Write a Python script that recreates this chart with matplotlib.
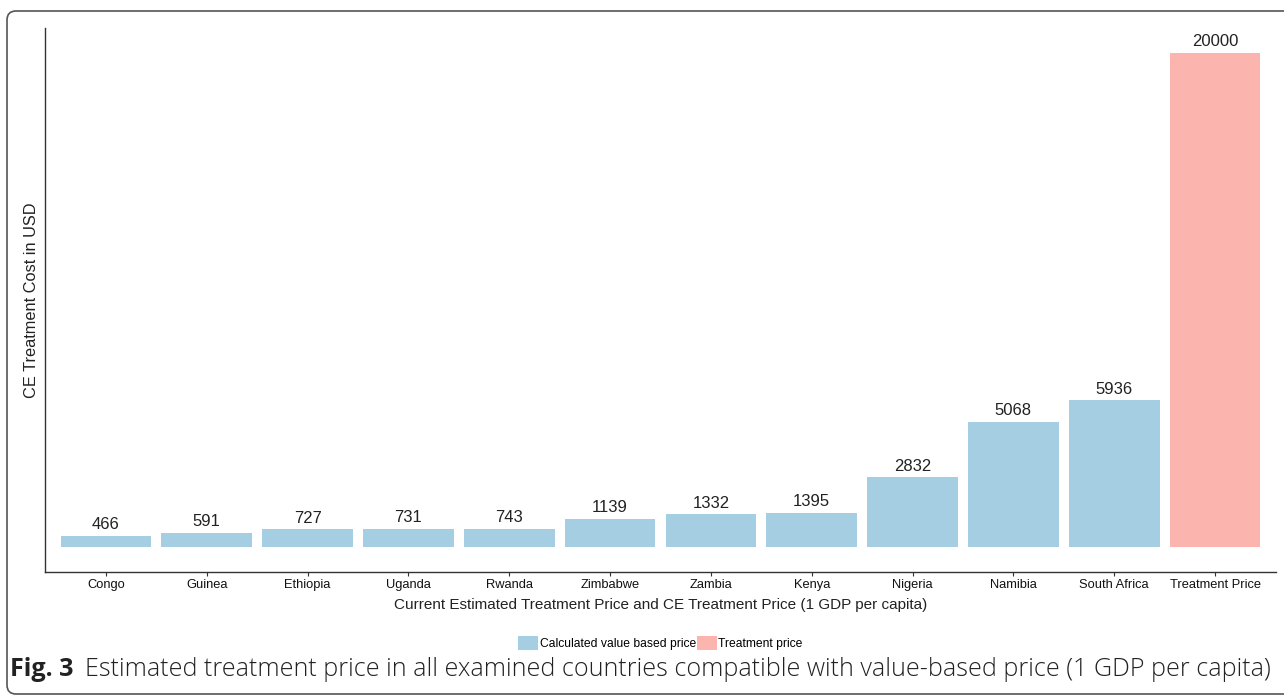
import matplotlib.pyplot as plt
from matplotlib.patches import FancyBboxPatch

countries = ['Congo', 'Guinea', 'Ethiopia', 'Uganda', 'Rwanda', 'Zimbabwe',
             'Zambia', 'Kenya', 'Nigeria', 'Namibia', 'South Africa', 'Treatment Price']
prices = [466, 591, 727, 731, 743, 1139, 1332, 1395, 2832, 5068, 5936, 20000]
groups = ['Calculated value based price'] * 11 + ['Treatment price']
group_colors = {'Calculated value based price': '#a6cee3', 'Treatment price': '#fbb4ae'}

plt.rcParams['font.family'] = ['Liberation Sans', 'DejaVu Sans']

W, H = 1284, 695
fig = plt.figure(figsize=(W / 100, H / 100), dpi=100)
ax = fig.add_axes([45.5 / W, 123 / H, 1230 / W, 544 / H])

x = range(len(countries))
bars = ax.bar(x, prices, width=0.9, color=[group_colors[g] for g in groups])
for xi, v in zip(x, prices):
    ax.text(xi, v + 150, str(v), ha='center', va='bottom', fontsize=12, color='#222222')

ymax = max(prices)
ax.set_xlim(-0.6, len(countries) - 0.4)
ax.set_ylim(-0.05 * ymax, 1.05 * ymax)
ax.set_xticks(list(x))
ax.set_xticklabels(countries, fontsize=9.3, color='#111111')
ax.set_yticks([])
ax.tick_params(axis='x', length=3, width=0.8, color='#333333', pad=2)
for side in ['top', 'right']:
    ax.spines[side].set_visible(False)
for side in ['left', 'bottom']:
    ax.spines[side].set_color('#333333')
    ax.spines[side].set_linewidth(1.0)

ax.set_xlabel('Current Estimated Treatment Price and CE Treatment Price (1 GDP per capita)',
              fontsize=11, color='#222222', labelpad=5)
ax.set_ylabel('CE Treatment Cost in USD', fontsize=11.8, color='#222222', labelpad=5)

# legend built from one bar of each group
handles = [bars[0], bars[-1]]
ax.legend(handles, ['Calculated value based price', 'Treatment price'],
          loc='center', bbox_to_anchor=(0.5, -0.1305), ncol=2, frameon=False,
          fontsize=8.7, handlelength=1.65, handleheight=1.4, handletextpad=0.1,
          columnspacing=0.1, borderpad=0)

# caption: bold figure number followed by the description, fitted to the frame width
cap_y = 1 - 670 / H
cap_size = 11.5
num = fig.text(10 / W, cap_y, 'Fig. 3', fontsize=cap_size, fontweight='bold',
               va='center', family='Open Sans', color='#222222')
desc = fig.text(0, cap_y,
                'Estimated treatment price in all examined countries compatible with value-based price (1 GDP per capita)',
                fontsize=cap_size, fontweight='light', va='center', family='Open Sans',
                color='#222222')
renderer = fig.canvas.get_renderer()
n_w = num.get_window_extent(renderer).width
d_w = desc.get_window_extent(renderer).width
cap_size *= (1266 - 10 - 12) / (n_w + d_w)
num.set_fontsize(cap_size)
desc.set_fontsize(cap_size)
n_ext = num.get_window_extent(renderer)
desc.set_x((n_ext.x1 + 12) / W)

frame = FancyBboxPatch((7, 1), 1310, 683, boxstyle='round,pad=0,rounding_size=9',
                       transform=None, fill=False, edgecolor='#555555', linewidth=1.2)
fig.patches.append(frame)

fig.savefig('out.png', dpi=100)
